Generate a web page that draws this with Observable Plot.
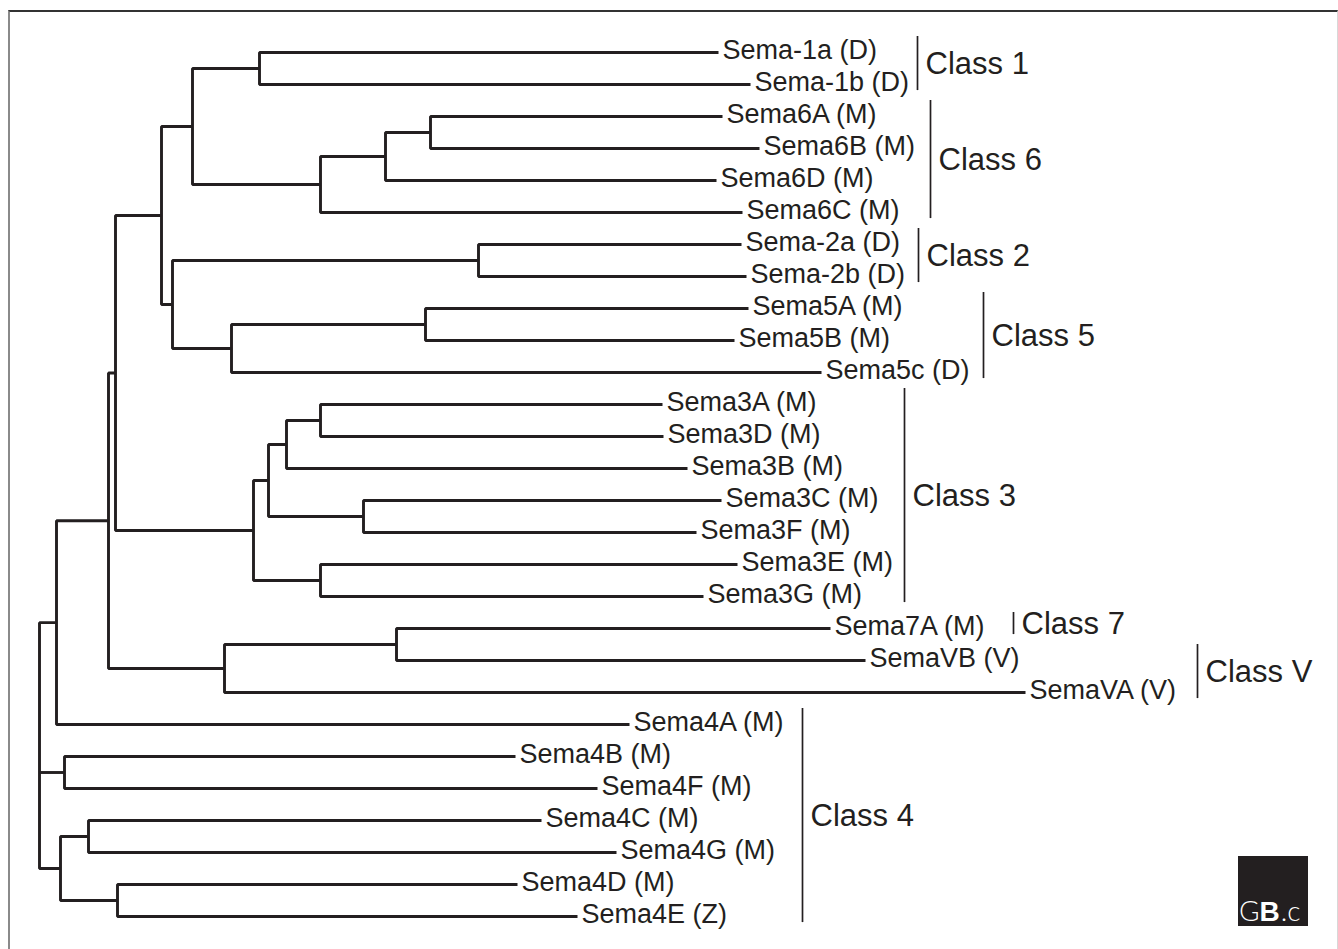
<!DOCTYPE html>
<html>
<head>
<meta charset="utf-8">
<script src="https://cdn.jsdelivr.net/npm/d3@7"></script>
<script src="https://cdn.jsdelivr.net/npm/@observablehq/plot@0.6"></script>
<style>
  body { margin: 0; background: #fff; }
  #wrap { position: relative; width: 1338px; height: 949px; overflow: hidden; background: #fff;
          font-family: "Liberation Sans", Arial, Helvetica, sans-serif; }
  #frame { position: absolute; left: 8px; top: 10px; width: 1330px; height: 960px; box-sizing: border-box;
           border-top: 2px solid #333; border-left: 2px solid #8a8a8a; border-right: 1px solid #d8d8d8; }
  #chart { position: absolute; left: 0; top: 0; }
  #logo { position: absolute; left: 1238px; top: 856px; width: 70px; height: 70px; background: #231f20; overflow: hidden; }
</style>
</head>
<body>
<div id="wrap">
  <div id="frame"></div>
  <div id="chart"></div>
  <div id="logo">
    <svg width="70" height="70">
      <text x="1" y="65" fill="#fff" font-size="28" font-family="Lato, 'Liberation Sans', Arial, sans-serif"><tspan font-weight="300">G</tspan><tspan font-weight="bold" font-family="'Liberation Sans', Arial, sans-serif">B</tspan><tspan font-weight="300" dx="1">.c</tspan></text>
    </svg>
  </div>
</div>
<script>
// ---- Leaves (top to bottom) and their tip depths (branch-length units) ----
const leafNames = [
  "Sema-1a (D)", "Sema-1b (D)", "Sema6A (M)", "Sema6B (M)", "Sema6D (M)", "Sema6C (M)",
  "Sema-2a (D)", "Sema-2b (D)", "Sema5A (M)", "Sema5B (M)", "Sema5c (D)",
  "Sema3A (M)", "Sema3D (M)", "Sema3B (M)", "Sema3C (M)", "Sema3F (M)", "Sema3E (M)", "Sema3G (M)",
  "Sema7A (M)", "SemaVB (V)", "SemaVA (V)",
  "Sema4A (M)", "Sema4B (M)", "Sema4F (M)", "Sema4C (M)", "Sema4G (M)", "Sema4D (M)", "Sema4E (Z)"
];
const leafDepth = [
  679, 711, 683, 720, 677, 703,
  702, 707, 709, 695, 782,
  623, 624, 648, 682, 657, 698, 664,
  791, 826, 986,
  590, 476, 558, 502, 577, 478, 538
];

// ---- Internal nodes: name, depth, children ----
const nodeNames = [
  "n1", "n6ab", "n6abd", "n6", "n16", "n2", "n5ab", "n5", "n25", "n1625",
  "n3ad", "n3adb", "n3cf", "n3adbcf", "n3eg", "n3", "nA",
  "n7vb", "n7v", "nB", "nC", "n4bf", "n4cg", "n4de", "n4cgde", "root"
];
const nodeDepth = [
  220, 391, 346, 281, 153, 439, 386, 192, 133, 122,
  281, 247, 324, 229, 281, 214, 76,
  357, 185, 69, 17, 25, 49, 78, 21, 0
];
const nodeChildren = [
  ["Sema-1a (D)", "Sema-1b (D)"],
  ["Sema6A (M)", "Sema6B (M)"],
  ["n6ab", "Sema6D (M)"],
  ["n6abd", "Sema6C (M)"],
  ["n1", "n6"],
  ["Sema-2a (D)", "Sema-2b (D)"],
  ["Sema5A (M)", "Sema5B (M)"],
  ["n5ab", "Sema5c (D)"],
  ["n2", "n5"],
  ["n16", "n25"],
  ["Sema3A (M)", "Sema3D (M)"],
  ["n3ad", "Sema3B (M)"],
  ["Sema3C (M)", "Sema3F (M)"],
  ["n3adb", "n3cf"],
  ["Sema3E (M)", "Sema3G (M)"],
  ["n3adbcf", "n3eg"],
  ["n1625", "n3"],
  ["Sema7A (M)", "SemaVB (V)"],
  ["n7vb", "SemaVA (V)"],
  ["nA", "n7v"],
  ["nB", "Sema4A (M)"],
  ["Sema4B (M)", "Sema4F (M)"],
  ["Sema4C (M)", "Sema4G (M)"],
  ["Sema4D (M)", "Sema4E (Z)"],
  ["n4cg", "n4de"],
  ["nC", "n4bf", "n4cgde"]
];

// ---- Class annotations ----
const classNames     = ["Class 1", "Class 6", "Class 2", "Class 5", "Class 3", "Class 7", "Class V", "Class 4"];
const classFirstLeaf = ["Sema-1a (D)", "Sema6A (M)", "Sema-2a (D)", "Sema5A (M)", "Sema3A (M)", "Sema7A (M)", "SemaVB (V)", "Sema4A (M)"];
const classLastLeaf  = ["Sema-1b (D)", "Sema6C (M)", "Sema-2b (D)", "Sema5c (D)", "Sema3G (M)", "Sema7A (M)", "SemaVA (V)", "Sema4E (Z)"];
const classBracketX  = [878, 891, 879, 944, 865, 974, 1158, 763];

// ---- Build layout from the arrays ----
const pos = new Map();
leafNames.forEach((n, i) => pos.set(n, {x: leafDepth[i], y: i}));
const nodeIndex = new Map(nodeNames.map((n, i) => [n, i]));
function place(name) {
  if (pos.has(name)) return pos.get(name);
  const i = nodeIndex.get(name);
  const kids = nodeChildren[i].map(place);
  const ys = kids.map(k => k.y);
  const p = {x: nodeDepth[i], y: (d3.min(ys) + d3.max(ys)) / 2};
  pos.set(name, p);
  return p;
}
nodeNames.forEach(place);

// Each node: one elbow polyline first child -> node vertical -> last child; middle children as extra segments
const pts = [];
nodeNames.forEach((n, i) => {
  const p = pos.get(n);
  const kids = nodeChildren[i].map(k => pos.get(k)).sort((a, b) => a.y - b.y);
  const first = kids[0], last = kids[kids.length - 1];
  const id = n;
  pts.push({id, x: first.x, y: first.y}, {id, x: p.x, y: first.y},
           {id, x: p.x, y: last.y}, {id, x: last.x, y: last.y});
  kids.slice(1, -1).forEach((k, j) => {
    const id2 = n + "_m" + j;
    pts.push({id: id2, x: p.x, y: k.y}, {id: id2, x: k.x, y: k.y});
  });
});

const leaves = leafNames.map((n, i) => ({name: n, x: leafDepth[i], y: i}));
const classes = classNames.map((c, i) => {
  const a = pos.get(classFirstLeaf[i]).y, b = pos.get(classLastLeaf[i]).y;
  return {name: c, x: classBracketX[i], y1: a - 0.5, y2: b + 0.19, ym: (a - 0.5 + b + 0.19) / 2};
});

const ink = "#231f20";
const chart = Plot.plot({
  width: 1338,
  height: 949,
  margin: 0,
  x: {domain: [0, 1299], range: [39, 1338], axis: null},
  y: {domain: [0, 27], range: [52, 916], axis: null},
  style: {fontFamily: "'Liberation Sans', Arial, Helvetica, sans-serif", background: "transparent", color: ink},
  marks: [
    Plot.line(pts, {x: "x", y: "y", z: "id", stroke: ink, strokeWidth: 2.9,
      strokeLinejoin: "miter", strokeLinecap: "butt", curve: "linear"}),
    Plot.text(leaves, {x: "x", y: "y", text: "name", textAnchor: "start", lineAnchor: "middle",
      dx: 4, dy: -2.5, fontSize: 27, fill: ink}),
    Plot.ruleX(classes, {x: "x", y1: "y1", y2: "y2", stroke: ink, strokeWidth: 1.7}),
    Plot.text(classes, {x: "x", y: "ym", text: "name", textAnchor: "start", lineAnchor: "middle",
      dx: 8, dy: 1, fontSize: 31, fill: ink})
  ]
});
document.getElementById("chart").appendChild(chart);
</script>
</body>
</html>
